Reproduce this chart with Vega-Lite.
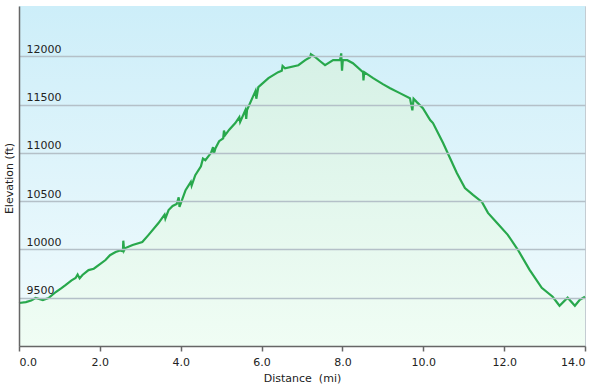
{
  "$schema": "https://vega.github.io/schema/vega-lite/v6.json",
  "width": 566,
  "height": 340,
  "autosize": {"type": "none"},
  "padding": {"left": 19, "top": 6, "right": 6, "bottom": 45},
  "background": "white",
  "config": {
    "view": {"stroke": "#c4ccd2", "strokeWidth": 1},
    "font": "DejaVu Sans",
    "axis": {"labelFont": "DejaVu Sans", "titleFont": "DejaVu Sans", "labelFontSize": 11, "titleFontSize": 11, "labelColor": "#222222", "titleColor": "#222222", "titleFontWeight": "normal"}
  },
  "data": {"values": [
    {"d":0,"e":9445},{"d":0.17,"e":9455},{"d":0.3,"e":9470},{"d":0.41,"e":9497},{"d":0.59,"e":9476},{"d":0.73,"e":9497},{"d":0.91,"e":9559},{"d":1.05,"e":9600},{"d":1.15,"e":9631},{"d":1.3,"e":9680},{"d":1.4,"e":9704},{"d":1.45,"e":9740},{"d":1.5,"e":9700},{"d":1.57,"e":9735},{"d":1.72,"e":9786},{"d":1.85,"e":9800},{"d":1.97,"e":9838},{"d":2.14,"e":9890},{"d":2.25,"e":9940},{"d":2.39,"e":9973},{"d":2.5,"e":9990},{"d":2.57,"e":9980},{"d":2.58,"e":10090},{"d":2.6,"e":9990},{"d":2.63,"e":10014},{"d":2.81,"e":10045},{"d":3.05,"e":10076},{"d":3.2,"e":10148},{"d":3.45,"e":10273},{"d":3.6,"e":10360},{"d":3.62,"e":10320},{"d":3.7,"e":10407},{"d":3.8,"e":10450},{"d":3.9,"e":10470},{"d":3.95,"e":10540},{"d":3.97,"e":10440},{"d":4.12,"e":10613},{"d":4.25,"e":10700},{"d":4.27,"e":10660},{"d":4.36,"e":10768},{"d":4.5,"e":10860},{"d":4.55,"e":10940},{"d":4.61,"e":10923},{"d":4.75,"e":11000},{"d":4.8,"e":11060},{"d":4.82,"e":10990},{"d":4.86,"e":11047},{"d":4.95,"e":11120},{"d":5.05,"e":11150},{"d":5.07,"e":11230},{"d":5.1,"e":11184},{"d":5.2,"e":11240},{"d":5.35,"e":11308},{"d":5.45,"e":11370},{"d":5.47,"e":11320},{"d":5.6,"e":11442},{"d":5.62,"e":11350},{"d":5.64,"e":11442},{"d":5.77,"e":11566},{"d":5.85,"e":11640},{"d":5.87,"e":11560},{"d":5.92,"e":11680},{"d":6.17,"e":11773},{"d":6.41,"e":11835},{"d":6.5,"e":11850},{"d":6.52,"e":11900},{"d":6.58,"e":11876},{"d":6.91,"e":11907},{"d":7.08,"e":11959},{"d":7.2,"e":11990},{"d":7.22,"e":12020},{"d":7.33,"e":11990},{"d":7.45,"e":11948},{"d":7.57,"e":11907},{"d":7.77,"e":11959},{"d":7.94,"e":11959},{"d":7.97,"e":12030},{"d":7.99,"e":11850},{"d":8.01,"e":11959},{"d":8.12,"e":11959},{"d":8.26,"e":11928},{"d":8.51,"e":11835},{"d":8.52,"e":11750},{"d":8.54,"e":11835},{"d":8.76,"e":11773},{"d":9.0,"e":11711},{"d":9.18,"e":11669},{"d":9.42,"e":11618},{"d":9.67,"e":11566},{"d":9.73,"e":11440},{"d":9.76,"e":11560},{"d":9.84,"e":11525},{"d":9.99,"e":11463},{"d":10.17,"e":11339},{"d":10.24,"e":11308},{"d":10.49,"e":11101},{"d":10.66,"e":10946},{"d":10.83,"e":10791},{"d":11.03,"e":10636},{"d":11.23,"e":10564},{"d":11.45,"e":10492},{"d":11.6,"e":10378},{"d":11.82,"e":10275},{"d":12.09,"e":10151},{"d":12.34,"e":9996},{"d":12.63,"e":9789},{"d":12.93,"e":9603},{"d":13.2,"e":9510},{"d":13.37,"e":9417},{"d":13.57,"e":9500},{"d":13.75,"e":9417},{"d":13.87,"e":9479},{"d":14.0,"e":9510}
  ]},
  "layer": [
    {
      "mark": {"type": "rect", "fill": {"gradient": "linear", "x1": 0, "y1": 0, "x2": 0, "y2": 1, "stops": [{"offset": 0, "color": "#cdeef9"}, {"offset": 1, "color": "#f2fbfd"}]}},
      "encoding": {
        "x": {"datum": 0, "type": "quantitative", "scale": {"domain": [0, 14], "nice": false, "zero": false}},
        "x2": {"datum": 14},
        "y": {"datum": 9000, "type": "quantitative", "scale": {"domain": [9000, 12520], "nice": false, "zero": false}},
        "y2": {"datum": 12520}
      }
    },
    {
      "mark": {"type": "area", "fill": {"gradient": "linear", "x1": 0, "y1": 0, "x2": 0, "y2": 1, "stops": [{"offset": 0, "color": "#d6f1e6"}, {"offset": 1, "color": "#f0fdf4"}]}},
      "encoding": {
        "x": {"field": "d", "type": "quantitative"},
        "y": {"field": "e", "type": "quantitative"},
        "y2": {"datum": 9000}
      }
    },
    {
      "mark": {"type": "line", "color": "#28a84c", "strokeWidth": 2.2},
      "encoding": {
        "x": {"field": "d", "type": "quantitative",
          "axis": {"values": [0, 2, 4, 6, 8, 10, 12, 14], "format": ".1f", "grid": false, "zindex": 1, "domainColor": "#666666", "domainWidth": 1.5, "tickColor": "#666666", "tickWidth": 1.5, "tickSize": 5, "labelPadding": 5, "labelFlush": true, "title": "Distance\u00a0\u00a0(mi)", "titlePadding": 5}},
        "y": {"field": "e", "type": "quantitative",
          "axis": {"values": [9500, 10000, 10500, 11000, 11500, 12000], "format": "d", "grid": true, "zindex": 1, "gridColor": "#b4c0c8", "gridWidth": 1.3, "ticks": false, "tickSize": 0, "domainColor": "#666666", "domainWidth": 1.5, "labelAlign": "left", "labelBaseline": "alphabetic", "labelPadding": -7, "labelOffset": -4, "title": "Elevation (ft)", "titleX": -10, "titleY": 172, "titleBaseline": "middle", "titleAngle": -90}}
      }
    }
  ]
}
